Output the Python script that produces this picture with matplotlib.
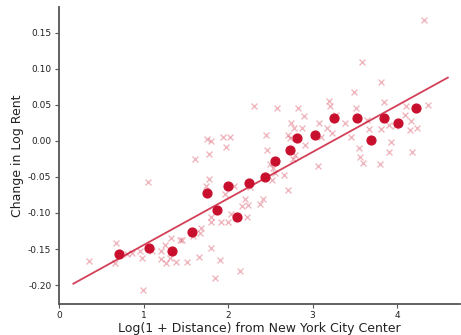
import numpy as np
import matplotlib
matplotlib.use("Agg")
import matplotlib.pyplot as plt

# puntos individuales (x = log(1+distancia), y = cambio en log renta)
scatter_x = [0.36, 0.67, 0.66, 0.80, 0.86, 0.96, 0.98, 0.99, 1.05, 1.10, 1.21, 1.21, 1.25,
             1.27, 1.31, 1.33, 1.38, 1.43, 1.46, 1.52, 1.58, 1.66, 1.67, 1.68, 1.74, 1.78,
             1.80, 1.80, 1.80, 1.85, 1.91, 1.92, 1.96, 2.00, 2.03, 2.14, 2.22,
             1.61, 1.75, 1.80, 1.77, 1.94, 1.97, 2.02, 2.07, 2.16, 2.20, 2.24, 2.26, 2.38,
             2.41, 2.31, 2.45, 2.46, 2.50, 2.53, 2.56, 2.52, 2.58, 2.66, 2.71, 2.71, 2.73,
             2.75, 2.78, 2.79, 2.77, 2.83, 2.87, 2.90, 2.91, 3.07, 3.08, 3.10, 3.17, 3.19,
             3.21, 3.23, 3.28, 3.38, 3.46, 3.49, 3.51, 3.55, 3.56, 3.59, 3.60, 3.64, 3.67,
             3.81, 3.81, 3.80, 3.84, 3.90, 3.93, 3.91, 3.98, 4.09, 4.11, 4.15, 4.16, 4.18,
             4.24, 4.32, 4.37]
scatter_y = [-0.167, -0.142, -0.169, -0.157, -0.155, -0.153, -0.162, -0.207, -0.057, -0.153,
             -0.153, -0.164, -0.144, -0.170, -0.163, -0.135, -0.168, -0.137, -0.137, -0.168,
             -0.132, -0.161, -0.128, -0.121, -0.062, -0.053, -0.105, -0.113, -0.148, -0.190,
             -0.165, -0.112, -0.074, -0.112, -0.101, -0.181, -0.106,
             -0.025, 0.003, 0.000, -0.018, 0.005, -0.009, 0.005, -0.062, -0.090, -0.080,
             -0.089, -0.064, -0.087, -0.080, 0.048, 0.008, -0.013, -0.032, -0.038, -0.045,
             -0.054, 0.046, -0.047, -0.068, 0.008, 0.004, 0.025, 0.018, -0.019, -0.025,
             0.045, 0.018, 0.035, -0.006, -0.035, 0.025, 0.006, 0.018, 0.055, 0.048, 0.011,
             0.036, 0.025, 0.006, 0.068, 0.045, -0.010, -0.022, 0.109, -0.031, 0.029, 0.016,
             0.082, 0.016, -0.032, 0.054, 0.022, -0.002, -0.015, 0.021, 0.036, 0.049, 0.015,
             0.027, -0.015, 0.018, 0.167, 0.050]

# medias por intervalo (binscatter)
bin_x = [0.714, 1.069, 1.333, 1.578, 1.755, 1.874, 2.004, 2.11, 2.245, 2.44,
         2.556, 2.73, 2.81, 3.03, 3.25, 3.53, 3.69, 3.85, 4.01, 4.22]
bin_y = [-0.157, -0.149, -0.153, -0.126, -0.073, -0.096, -0.0625, -0.105, -0.059, -0.0495,
         -0.028, -0.012, 0.0046, 0.0083, 0.032, 0.032, 0.0018, 0.032, 0.025, 0.045]

# recta de ajuste
fit_intercept = -0.209
fit_slope = 0.0645
fit_range = [0.17, 4.6]

red = "#c8102e"

fig = plt.figure(figsize=(4.61, 3.35), dpi=100)
ax = fig.add_axes([0.128, 0.093, 0.87, 0.887])

ax.scatter(scatter_x, scatter_y, marker="x", s=18, color=red, alpha=0.3, linewidths=1.0)
xs = np.array(fit_range)
ax.plot(xs, fit_intercept + fit_slope * xs, color=red, alpha=0.8, linewidth=1.3)
ax.scatter(bin_x, bin_y, s=40, color=red, zorder=3)

ax.set_xlim(0, 4.745)
ax.set_ylim(-0.226, 0.186)
ax.set_xticks([0, 1, 2, 3, 4])
ax.set_yticks([-0.20, -0.15, -0.10, -0.05, 0.00, 0.05, 0.10, 0.15])
ax.yaxis.set_major_formatter(matplotlib.ticker.FormatStrFormatter("%.2f"))

for side in ["top", "right"]:
    ax.spines[side].set_visible(False)
for side in ["left", "bottom"]:
    ax.spines[side].set_color("#555555")
    ax.spines[side].set_linewidth(1.3)
ax.tick_params(colors="#555555", labelcolor="#222222", labelsize=6.5, length=3, pad=2.5)

ax.set_xlabel("Log(1 + Distance) from New York City Center", fontsize=9, color="#222222",
              labelpad=1)
ax.set_ylabel("Change in Log Rent", fontsize=9, color="#222222", labelpad=3)

fig.savefig("out.png", dpi=100)
